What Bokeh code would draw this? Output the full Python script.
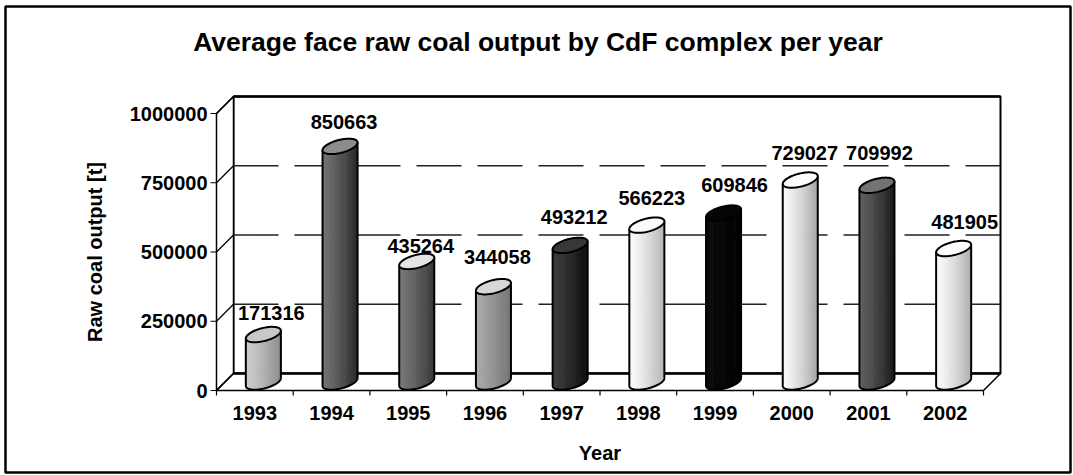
import math
import numpy as np
from bokeh.plotting import figure
from bokeh.models import Range1d
from bokeh.core.properties import value
from bokeh.embed import file_html
from bokeh.resources import INLINE

# ---------------- data ----------------
years = ["1993", "1994", "1995", "1996", "1997", "1998", "1999", "2000", "2001", "2002"]
outputs = [171316, 850663, 435264, 344058, 493212, 566223, 609846, 729027, 709992, 481905]
y_ticks = [0, 250000, 500000, 750000, 1000000]
y_tick_labels = ["0", "250000", "500000", "750000", "1000000"]
title_text = "Average face raw coal output by CdF complex per year"
x_title = "Year"
y_title = "Raw coal output [t]"

# ---------------- styles ----------------
body_left = [205, 115, 120, 170, 60, 252, 10, 252, 95, 252]
body_right = [140, 40, 55, 115, 12, 180, 0, 165, 25, 175]
top_grey = [200, 140, 228, 215, 55, 252, 5, 252, 115, 252]
label_dx = [8, 4, 4, 4, 4, 5, 11, 4.5, 2.5, 11]      # px nudges of data labels
label_dy = [30.5, 32.4, 24.4, 37.7, 36.4, 36, 37, 36, 41, 35.5]

FONT = value("Liberation Sans")
W, H = 1072, 474
PX_X = 76.7          # px per category
K = 277e-6           # px per value unit
OX, OY = 216, 390    # canvas position of axis origin
DEPTH = 17
CYL_W, CYL_H, TILT = 36, 13, 0.25


def ux(px):
    return px / PX_X


def uy(px):
    return px / K


def grey(g):
    g = int(max(0, min(255, round(g))))
    return "#%02x%02x%02x" % (g, g, g)


p = figure(width=W, height=H, output_backend="svg", toolbar_location=None,
           x_range=Range1d(-OX / PX_X, (W - OX) / PX_X),
           y_range=Range1d(-(H - OY) / K, OY / K),
           x_axis_location=None, y_axis_location=None, min_border=0,
           title_location=None, background_fill_color="white",
           border_fill_color="white", outline_line_color=None)
p.grid.visible = False

n = len(years)
ymax = y_ticks[-1]
dxu, dyu = ux(DEPTH), uy(DEPTH)
x0r, x1r = p.x_range.start, p.x_range.end
y0r, y1r = p.y_range.start, p.y_range.end

# outer chart border
p.quad(left=x0r + ux(5), right=x0r + ux(1070), top=y1r - uy(6), bottom=y1r - uy(472),
       fill_color=None, line_color="black", line_width=2.5)

# back wall
p.quad(left=dxu, right=n + dxu, bottom=dyu, top=ymax + dyu,
       fill_color="white", line_color="black", line_width=2)
p.line([dxu, n + dxu], [ymax + dyu, ymax + dyu], line_color="black", line_width=2.5)
# left wall
p.patch([0, dxu, dxu, 0], [0, dyu, ymax + dyu, ymax],
        fill_color="white", line_color="black", line_width=1.5)
# floor
p.patch([0, n, n + dxu, dxu], [0, 0, dyu, dyu],
        fill_color="white", line_color="black", line_width=1.5)
p.line([dxu, n + dxu], [dyu, dyu], line_color="black", line_width=2.5)

# dashed gridlines on back wall
mids = y_ticks[1:-1]
p.multi_line(xs=[[dxu, n + dxu] for _ in mids], ys=[[v + dyu, v + dyu] for v in mids],
             line_color="#222222", line_width=1.4, line_dash="45 16")
# depth lines on left wall
p.segment(x0=[0] * len(y_ticks), y0=y_ticks, x1=[dxu] * len(y_ticks),
          y1=[v + dyu for v in y_ticks], line_color="black", line_width=1.2)

# y ticks & labels
p.segment(x0=[-ux(6)] * len(y_ticks), y0=y_ticks, x1=[0] * len(y_ticks), y1=y_ticks,
          line_color="black", line_width=1.2)
p.text(x=[-ux(9)] * len(y_ticks), y=y_ticks, text=y_tick_labels,
       text_align="right", text_baseline="middle", text_font=FONT,
       text_font_style="bold", text_font_size="20px", text_color="black")

# x ticks & labels
xs_t = list(range(n + 1))
p.segment(x0=xs_t, y0=[0] * len(xs_t), x1=xs_t, y1=[-uy(5)] * len(xs_t),
          line_color="black", line_width=1.2)
p.text(x=[i + 0.5 for i in range(n)], y=[-uy(22)] * n, text=years,
       text_align="center", text_baseline="middle", text_font=FONT,
       text_font_style="bold", text_font_size="20px", text_color="black")

# ---------------- cylinders ----------------
a, b, th = CYL_W / 2, CYL_H / 2, TILT


def ell(t):
    t = np.asarray(t, dtype=float)
    return (a * np.cos(t) * math.cos(th) - b * np.sin(t) * math.sin(th),
            a * np.cos(t) * math.sin(th) + b * np.sin(t) * math.cos(th))


t_left = math.pi + math.atan(-(b / a) * math.tan(th))
t_right = t_left + math.pi
xL, yL = ell(t_left)
xR, yR = ell(t_right)
xL, yL, xR, yR = float(xL), float(yL), float(xR), float(yR)
arc_x, arc_y = ell(np.linspace(t_left, t_right, 80))
full_x, full_y = ell(np.linspace(0, 2 * math.pi, 90))


def axis_y(x):
    return yL + (x - xL) * (yR - yL) / (xR - xL)


cx = [i + 0.5 + dxu / 2 for i in range(n)]
base = dyu / 2
tops = [v + dyu / 2 for v in outputs]

NS = 16
edges = np.linspace(xL, xR, NS + 1)
strip_xs, strip_ys, strip_cols = [], [], []
for i in range(n):
    for j in range(NS):
        xa, xb = edges[j] - 0.3, edges[j + 1] + 0.3
        xa_c, xb_c = max(xa, xL), min(xb, xR)
        inner = arc_x[(arc_x > xa_c) & (arc_x < xb_c)]
        bx = np.concatenate([[xa_c], inner, [xb_c]])
        by = np.interp(bx, arc_x, arc_y)
        px_ = [xa_c, xb_c] + list(bx[::-1])
        py_top = [axis_y(xa_c), axis_y(xb_c)]
        strip_xs.append([cx[i] + ux(v) for v in px_])
        strip_ys.append([tops[i] + uy(py_top[0]), tops[i] + uy(py_top[1])] +
                        [base + uy(v) for v in by[::-1]])
        f = (j + 0.5) / NS
        g = body_left[i] + (body_right[i] - body_left[i]) * (f ** 1.3)
        strip_cols.append(grey(g))
p.patches(strip_xs, strip_ys, fill_color=strip_cols, line_color=None)

# cylinder outlines (sides + lower rim)
out_xs, out_ys = [], []
for i in range(n):
    ox = [xL, xL] + list(arc_x) + [xR, xR]
    oy_top = [tops[i] + uy(yL), base + uy(yL)]
    oy_bot = [base + uy(v) for v in arc_y]
    out_xs.append([cx[i] + ux(v) for v in ox])
    out_ys.append(oy_top + oy_bot + [base + uy(yR), tops[i] + uy(yR)])
p.multi_line(out_xs, out_ys, line_color="black", line_width=2, line_join="round")

# top ellipses
p.patches([[cx[i] + ux(v) for v in full_x] for i in range(n)],
          [[tops[i] + uy(v) for v in full_y] for i in range(n)],
          fill_color=[grey(g) for g in top_grey], line_color="black", line_width=2)

# data labels
p.text(x=[cx[i] + ux(label_dx[i]) for i in range(n)],
       y=[outputs[i] + uy(label_dy[i]) for i in range(n)],
       text=[str(v) for v in outputs], text_align="center", text_baseline="middle",
       text_font=FONT, text_font_style="bold", text_font_size="20px", text_color="black")

# titles
xr_mid = (x0r + ux(5) + x0r + ux(1070)) / 2
p.text(x=[xr_mid], y=[y1r - uy(41)], text=[title_text], text_align="center",
       text_baseline="middle", text_font=FONT, text_font_style="bold",
       text_font_size="26.5px", text_color="black")
p.text(x=[-ux(122)], y=[ymax / 2], text=[y_title], angle=math.pi / 2,
       text_align="center", text_baseline="middle", text_font=FONT,
       text_font_style="bold", text_font_size="20px", text_color="black")
p.text(x=[n / 2], y=[-uy(62)], text=[x_title], text_align="center",
       text_baseline="middle", text_font=FONT, text_font_style="bold",
       text_font_size="20px", text_color="black")

open("out.html", "w").write(file_html(p, INLINE))
